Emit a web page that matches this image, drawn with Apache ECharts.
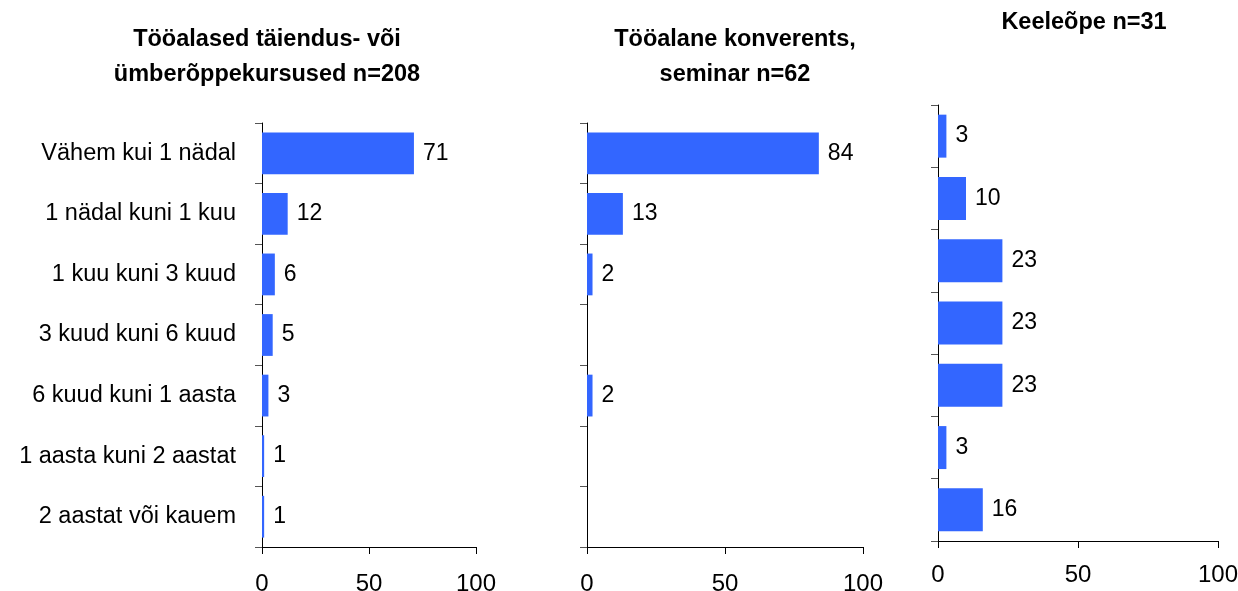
<!DOCTYPE html>
<html><head><meta charset="utf-8">
<script src="https://cdn.jsdelivr.net/npm/echarts@6/dist/echarts.min.js"></script>
<style>html,body{margin:0;padding:0;background:#fff}#c{width:1238px;height:591px}</style>
</head><body><div id="c"></div>
<script>
const categories = ['Vähem kui 1 nädal','1 nädal kuni 1 kuu','1 kuu kuni 3 kuud','3 kuud kuni 6 kuud','6 kuud kuni 1 aasta','1 aasta kuni 2 aastat','2 aastat või kauem'];
const coursesValues = [71, 12, 6, 5, 3, 1, 1];
const conferenceValues = [84, 13, 2, null, 2, null, null];
const languageValues = [3, 10, 23, 23, 23, 3, 16];
const titles = ['Tööalased täiendus- või\nümberõppekursused n=208', 'Tööalane konverents,\nseminar n=62', 'Keeleõpe n=31'];
const xTicks = {min: 0, max: 100, interval: 50};

const font = 'Liberation Sans, Arial, sans-serif';
const grids = [
  {left: 262, width: 214, top: 123, height: 424},
  {left: 587, width: 276, top: 123, height: 424},
  {left: 938, width: 280, top: 105, height: 436}
].map(g => Object.assign(g, {containLabel: false, outerBoundsMode: 'none'}));
const labelMargins = [25, 25, 22];
const seriesData = [coursesValues, conferenceValues, languageValues];
const chart = echarts.init(document.getElementById('c'));
chart.setOption({
  animation: false,
  backgroundColor: '#fff',
  title: [
    {text: titles[0], left: 262, top: 17},
    {text: titles[1], left: 730, top: 17},
    {text: titles[2], left: 1079, top: 0}
  ].map(t => Object.assign(t, {textAlign: 'center', textStyle: {fontFamily: font, fontSize: 23.5, fontWeight: 'bold', color: '#000', lineHeight: 35}})),
  grid: grids,
  xAxis: grids.map((g, i) => ({
    type: 'value', gridIndex: i, min: xTicks.min, max: xTicks.max, interval: xTicks.interval,
    splitLine: {show: false},
    axisLine: {show: true, lineStyle: {color: '#000', width: 1}},
    axisTick: {show: true, length: 7, lineStyle: {color: '#000'}},
    axisLabel: {fontFamily: font, fontSize: 24, color: '#000', margin: labelMargins[i]}
  })),
  yAxis: grids.map((g, i) => ({
    type: 'category', gridIndex: i, data: categories, inverse: true,
    axisLine: {show: true, lineStyle: {color: '#000', width: 1}},
    axisTick: {show: true, length: 7, lineStyle: {color: '#555'}},
    axisLabel: {show: i === 0, fontFamily: font, fontSize: 23.5, color: '#000', margin: 26}
  })),
  series: seriesData.map((d, i) => ({
    type: 'bar', xAxisIndex: i, yAxisIndex: i, data: d,
    barWidth: '69%',
    itemStyle: {color: '#3366FF'},
    label: {show: true, position: 'right', distance: 9, fontFamily: font, fontSize: 23, color: '#000'}
  }))
});
</script></body></html>
